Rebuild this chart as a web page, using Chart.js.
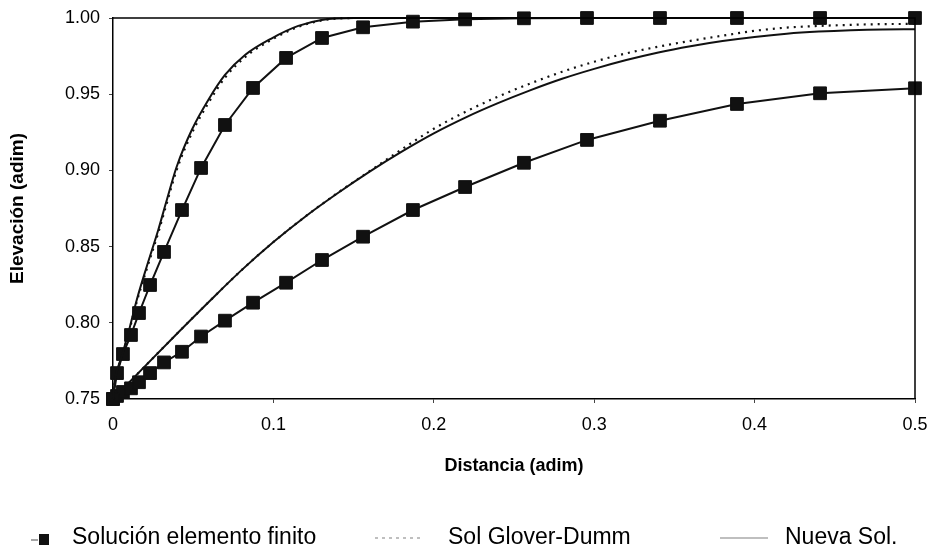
<!DOCTYPE html>
<html>
<head>
<meta charset="utf-8">
<script src="https://cdn.jsdelivr.net/npm/chart.js@4.4.1/dist/chart.umd.min.js"></script>
<style>
html,body{margin:0;padding:0;background:#fff;}
canvas{display:block;}
</style>
</head>
<body>
<canvas id="c" width="930" height="551"></canvas>
<script>
// ---- Data ----
const feX     = [0, 0.0025, 0.0062, 0.0112, 0.0162, 0.0231, 0.0318, 0.043, 0.0549, 0.0698, 0.0873, 0.1079, 0.1303, 0.1559, 0.187, 0.2195, 0.2562, 0.2955, 0.341, 0.389, 0.4408, 0.5];
const feFast  = [0.75, 0.767, 0.7795, 0.792, 0.8064, 0.8248, 0.8465, 0.874, 0.9016, 0.9298, 0.9541, 0.9738, 0.9869, 0.9939, 0.9976, 0.9991, 0.9998, 1.0, 1.0, 1.0, 1.0, 1.0];
const feSlow  = [0.75, 0.752, 0.7546, 0.757, 0.761, 0.767, 0.774, 0.781, 0.791, 0.8014, 0.8132, 0.8263, 0.8412, 0.8565, 0.874, 0.8891, 0.905, 0.92, 0.9326, 0.9436, 0.9506, 0.9539];

const fastX   = [0, 0.00125, 0.0054, 0.0095, 0.0148, 0.021, 0.0282, 0.033, 0.0397, 0.0491, 0.0594, 0.0698, 0.0823, 0.099, 0.1155, 0.1301, 0.15, 0.2, 0.3, 0.4, 0.5];
const nsFast  = [0.75, 0.7625, 0.7778, 0.7931, 0.815, 0.8368, 0.8609, 0.8786, 0.9024, 0.9265, 0.9462, 0.9626, 0.9757, 0.9867, 0.9948, 0.9987, 1.0, 1.0, 1.0, 1.0, 1.0];
const gdFast  = [0.75, 0.7622, 0.7772, 0.7922, 0.8138, 0.8352, 0.859, 0.8765, 0.9003, 0.9243, 0.9441, 0.9608, 0.9743, 0.9858, 0.9942, 0.9984, 1.0, 1.0, 1.0, 1.0, 1.0];

const slowX   = [0, 0.02, 0.04, 0.06, 0.08, 0.1, 0.12, 0.14, 0.16, 0.18, 0.2, 0.22, 0.24, 0.26, 0.28, 0.3, 0.32, 0.34, 0.36, 0.38, 0.4, 0.42, 0.44, 0.46, 0.48, 0.5];
const nsSlow  = [0.75, 0.7716, 0.793, 0.814, 0.8344, 0.853, 0.8698, 0.885, 0.8992, 0.9123, 0.9243, 0.9348, 0.9441, 0.9525, 0.9601, 0.9666, 0.9724, 0.9774, 0.9815, 0.9849, 0.9876, 0.9897, 0.9911, 0.992, 0.9925, 0.9926];
const gdSlow  = [0.75, 0.7716, 0.793, 0.814, 0.8344, 0.853, 0.8698, 0.8852, 0.8995, 0.9138, 0.9273, 0.9386, 0.9484, 0.957, 0.9647, 0.9713, 0.9768, 0.9812, 0.985, 0.9884, 0.9916, 0.9937, 0.9948, 0.9955, 0.996, 0.9961];

const xTicks = [0, 0.1, 0.2, 0.3, 0.4, 0.5];
const yTicks = [0.75, 0.80, 0.85, 0.90, 0.95, 1.00];
const legendLabels = ['Solución elemento finito', 'Sol Glover-Dumm', 'Nueva Sol.'];

const pts = (xs, ys) => xs.map((x, i) => ({x: x, y: ys[i]}));

const FONT = '"Liberation Sans", Arial, Helvetica, sans-serif';

const feStyle = {
  borderColor: '#111', backgroundColor: '#111', borderWidth: 2,
  pointStyle: 'rect', pointRadius: 9, pointBorderWidth: 1,
  pointBackgroundColor: '#111', pointBorderColor: '#111',
  tension: 0, clip: false
};
const solidStyle = {
  borderColor: '#111', borderWidth: 2, pointRadius: 0,
  cubicInterpolationMode: 'monotone', clip: false
};
const dotStyle = {
  borderColor: '#111', borderWidth: 2.2, pointRadius: 0, borderDash: [2, 5],
  cubicInterpolationMode: 'monotone', clip: false
};

const boxPlugin = {
  id: 'box',
  afterDatasetsDraw(chart) {
    const {ctx, chartArea: a} = chart;
    ctx.save();
    ctx.strokeStyle = '#000';
    ctx.lineWidth = 1.5;
    ctx.beginPath();
    ctx.moveTo(a.left, a.top);
    ctx.lineTo(a.right, a.top);
    ctx.lineTo(a.right, a.bottom);
    ctx.stroke();
    ctx.restore();
  }
};

const legendPlugin = {
  id: 'customLegend',
  afterDraw(chart) {
    const ctx = chart.ctx;
    const y = 538;
    ctx.save();
    ctx.strokeStyle = '#888';
    ctx.lineWidth = 1.5;
    ctx.beginPath(); ctx.moveTo(31, y + 2); ctx.lineTo(38, y + 2); ctx.stroke();
    ctx.fillStyle = '#111';
    ctx.fillRect(39, y - 4, 10, 11);
    ctx.strokeStyle = '#aaa';
    ctx.setLineDash([3, 4]);
    ctx.beginPath(); ctx.moveTo(375, y); ctx.lineTo(423, y); ctx.stroke();
    ctx.setLineDash([]);
    ctx.beginPath(); ctx.moveTo(720, y); ctx.lineTo(768, y); ctx.stroke();
    ctx.fillStyle = '#000';
    ctx.font = '23px ' + FONT;
    ctx.textBaseline = 'middle';
    ctx.textAlign = 'left';
    ctx.fillText(legendLabels[0], 72, y);
    ctx.fillText(legendLabels[1], 448, y);
    ctx.fillText(legendLabels[2], 785, y);
    ctx.restore();
  }
};

new Chart(document.getElementById('c'), {
  type: 'line',
  data: {
    datasets: [
      Object.assign({label: legendLabels[2] + ' A', data: pts(fastX, nsFast)}, solidStyle),
      Object.assign({label: legendLabels[1] + ' A', data: pts(fastX, gdFast)}, dotStyle),
      Object.assign({label: legendLabels[2] + ' B', data: pts(slowX, nsSlow)}, solidStyle),
      Object.assign({label: legendLabels[1] + ' B', data: pts(slowX, gdSlow)}, dotStyle),
      Object.assign({label: legendLabels[0] + ' A', data: pts(feX, feFast)}, feStyle),
      Object.assign({label: legendLabels[0] + ' B', data: pts(feX, feSlow)}, feStyle)
    ]
  },
  options: {
    responsive: false,
    animation: false,
    devicePixelRatio: 1,
    layout: {padding: {top: 18, right: 15, bottom: 71, left: 0}},
    plugins: {legend: {display: false}, tooltip: {enabled: false}},
    scales: {
      x: {
        type: 'linear', min: 0, max: 0.5,
        afterBuildTicks: s => { s.ticks = xTicks.map(v => ({value: v})); },
        ticks: {
          callback: v => (v === 0 ? '0' : v.toFixed(1)),
          font: {family: FONT, size: 18}, color: '#000', padding: 11, maxRotation: 0
        },
        grid: {drawOnChartArea: false, tickLength: 4, color: '#444', lineWidth: 1},
        border: {color: '#000', width: 1.5},
        title: {display: true, text: 'Distancia (adim)', color: '#000',
                font: {family: FONT, size: 18, weight: 'bold'}, padding: {top: 0, bottom: 3}},
        afterFit: s => { s.height = 81; s.paddingLeft = 0; s.paddingRight = 0; }
      },
      y: {
        type: 'linear', min: 0.75, max: 1.0,
        afterBuildTicks: s => { s.ticks = yTicks.map(v => ({value: v})); },
        ticks: {
          callback: v => v.toFixed(2),
          font: {family: FONT, size: 18}, color: '#000', padding: 9
        },
        grid: {drawOnChartArea: false, tickLength: 4, color: '#444', lineWidth: 1},
        border: {color: '#000', width: 1.5},
        title: {display: true, text: 'Elevación (adim)', color: '#000',
                font: {family: FONT, size: 19, weight: 'bold'}, padding: {top: 6, bottom: 0}},
        afterFit: s => { s.width = 113; s.paddingTop = 0; s.paddingBottom = 0; }
      }
    }
  },
  plugins: [boxPlugin, legendPlugin]
});
</script>
</body>
</html>
